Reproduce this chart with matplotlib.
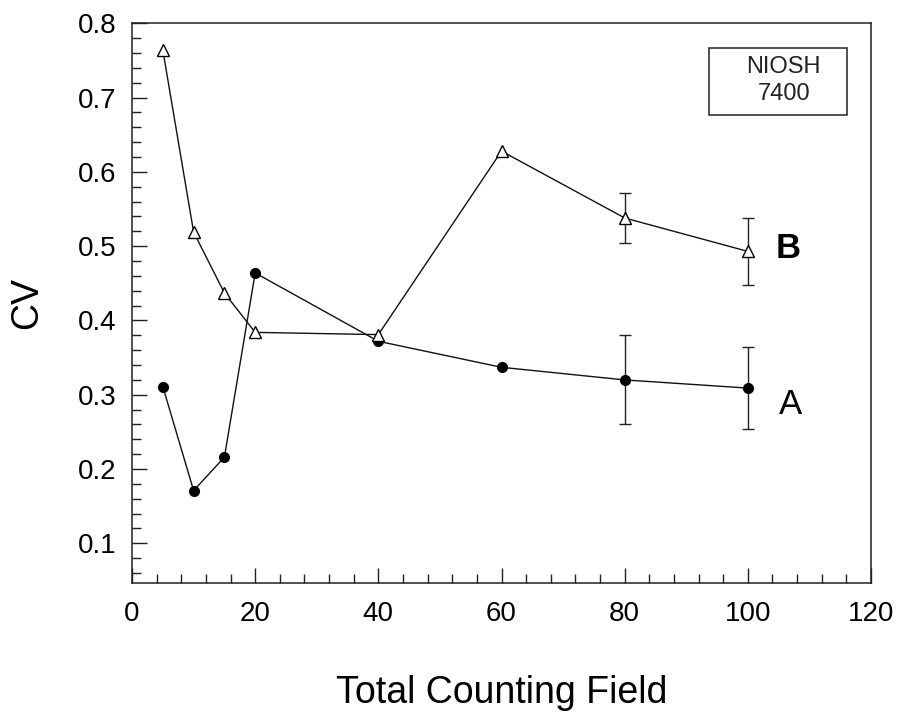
import numpy as np
import matplotlib
matplotlib.use('Agg')
import matplotlib.pyplot as plt
from matplotlib.ticker import MultipleLocator
from matplotlib.patches import Rectangle

plt.rcParams['font.family'] = ['Liberation Sans', 'DejaVu Sans']

# data
fields = [5, 10, 15, 20, 40, 60, 80, 100]
cv_a = [0.311, 0.171, 0.216, 0.464, 0.372, 0.337, 0.320, 0.309]
cv_b = [0.764, 0.519, 0.437, 0.384, 0.381, 0.628, 0.538, 0.493]
err_a = [0, 0, 0, 0, 0, 0, 0.060, 0.055]
err_b = [0, 0, 0, 0, 0, 0, 0.034, 0.045]

fig = plt.figure(figsize=(9, 7.18), dpi=100)
ax = fig.add_axes([0.1467, 0.1884, 0.8211, 0.7791])

# error bars only where they exist
ia = [i for i, e in enumerate(err_a) if e > 0]
ib = [i for i, e in enumerate(err_b) if e > 0]
ax.errorbar([fields[i] for i in ia], [cv_a[i] for i in ia], yerr=[err_a[i] for i in ia],
            fmt='none', ecolor='#222222', elinewidth=1.0, capsize=4.5, capthick=1.0, zorder=2)
ax.errorbar([fields[i] for i in ib], [cv_b[i] for i in ib], yerr=[err_b[i] for i in ib],
            fmt='none', ecolor='#222222', elinewidth=1.0, capsize=4.5, capthick=1.0, zorder=2)

ax.plot(fields, cv_a, color='#111111', lw=1.0, marker='o', ms=7,
        mfc='black', mec='black', zorder=3)
ax.plot(fields, cv_b, color='#111111', lw=1.0, marker='^', ms=8.5,
        mfc='white', mec='black', mew=1.0, zorder=3)

ax.set_xlim(0, 120)
ax.set_ylim(0.047, 0.8)
ax.set_xticks([0, 20, 40, 60, 80, 100, 120])
ax.set_yticks([0.1, 0.2, 0.3, 0.4, 0.5, 0.6, 0.7, 0.8])
ax.xaxis.set_minor_locator(MultipleLocator(4))
ax.yaxis.set_minor_locator(MultipleLocator(0.02))
ax.tick_params(which='both', direction='in', top=False, right=False, width=1.0, color='#222222')
ax.tick_params(which='major', length=11)
ax.tick_params(which='minor', length=6.5)
ax.tick_params(axis='x', which='major', pad=13, labelsize=20)
ax.tick_params(axis='y', which='major', pad=11, labelsize=20)
for s in ax.spines.values():
    s.set_linewidth(1.1)
    s.set_color('#222222')

ax.set_xlabel('Total Counting Field', fontsize=27, va='center')
ax.set_ylabel('CV', fontsize=27, va='center')
ax.xaxis.set_label_coords(0.5, -0.198)
ax.yaxis.set_label_coords(-0.142, 0.5)

# series labels
ax.text(107, 0.287, 'A', fontsize=25, ha='center', va='center')
ax.text(106.5, 0.497, 'B', fontsize=25, fontweight='bold', ha='center', va='center')

# method box
ax.add_patch(Rectangle((0.781, 0.837), 0.186, 0.119, transform=ax.transAxes,
                       fill=False, lw=1.1, ec='#222222'))
ax.text(0.882, 0.898, 'NIOSH\n7400', transform=ax.transAxes, fontsize=17,
        ha='center', va='center', linespacing=1.25, color='#222222')

fig.savefig('out.png', dpi=100, facecolor='white')
